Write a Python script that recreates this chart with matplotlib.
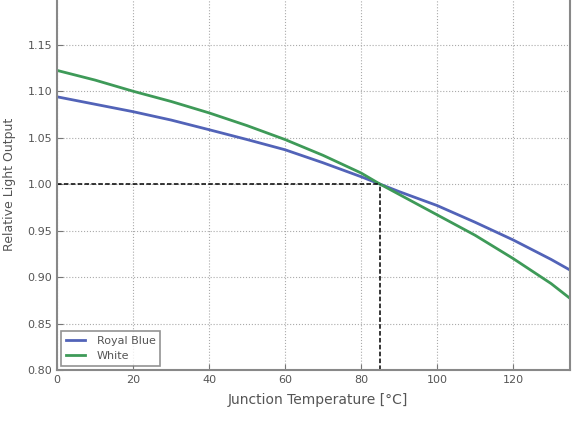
import matplotlib
matplotlib.use('Agg')
import matplotlib.pyplot as plt

temps = [0, 10, 20, 30, 40, 50, 60, 70, 80, 85, 90, 100, 110, 120, 130, 135]
royal_blue = [1.094, 1.086, 1.078, 1.069, 1.0586, 1.048, 1.037, 1.023, 1.008, 1.000,
              0.992, 0.977, 0.959, 0.940, 0.919, 0.9075]
white = [1.1224, 1.112, 1.100, 1.089, 1.0767, 1.063, 1.048, 1.031, 1.012, 1.000,
         0.989, 0.967, 0.945, 0.920, 0.893, 0.877]
ref_temp = 85
ref_out = 1.00
xticks = [0, 20, 40, 60, 80, 100, 120]
yticks = [0.80, 0.85, 0.90, 0.95, 1.00, 1.05, 1.10, 1.15]

txt = '#555555'
fig = plt.figure(figsize=(5.77, 4.26), dpi=100)
ax = fig.add_axes([0.0988, 0.1315, 0.8892, 0.8725])

ax.plot(temps, royal_blue, color='#5263b8', lw=2, label='Royal Blue')
ax.plot(temps, white, color='#3e9a58', lw=2, label='White')
ax.plot([0, ref_temp], [ref_out, ref_out], color='black', ls=(0, (3, 1.5)), lw=1.1)
ax.plot([ref_temp, ref_temp], [0.80, ref_out], color='black', ls=(0, (3, 1.5)), lw=1.1)

ax.set_xlim(0, 135)
ax.set_ylim(0.80, 1.20)
ax.set_xticks(xticks)
ax.set_yticks(yticks)
ax.set_yticklabels(['%.2f' % v for v in yticks])
ax.grid(True, color='#aaaaaa', ls=':', lw=0.8)
ax.tick_params(direction='in', colors='#777777', labelcolor=txt, labelsize=8, length=4)
for s in ax.spines.values():
    s.set_color('#888888')
    s.set_linewidth(1.5)

ax.set_xlabel('Junction Temperature [°C]', color=txt, fontsize=10)
ax.xaxis.set_label_coords(0.508, -0.062)
ax.set_ylabel('Relative Light Output', color=txt, fontsize=9, labelpad=8)

leg = ax.legend(loc='lower left', fontsize=8, frameon=True, fancybox=False,
                borderaxespad=0.4, handlelength=1.7, handletextpad=1.1)
leg.get_frame().set_edgecolor('#777777')
leg.get_frame().set_linewidth(1.2)
for t in leg.get_texts():
    t.set_color(txt)

plt.savefig('out.png', dpi=100)
